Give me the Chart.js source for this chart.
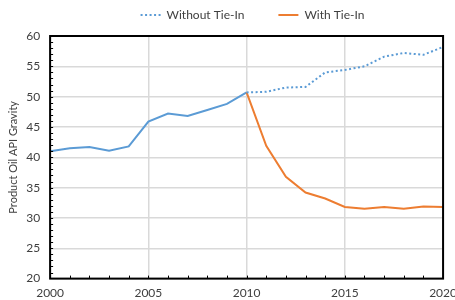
<!DOCTYPE html>
<html>
<head>
<meta charset="utf-8">
<script src="https://cdn.jsdelivr.net/npm/chart.js@4/dist/chart.umd.min.js"></script>
<style>
  html, body { margin: 0; padding: 0; background: #fff; overflow: hidden; }
  #wrap { width: 464px; height: 307px; }
</style>
</head>
<body>
<div id="wrap"><canvas id="apiChart"></canvas></div>
<script>
// historical production, then the two forecast cases from 2010
let histYears = [2000, 2001, 2002, 2003, 2004, 2005, 2006, 2007, 2008, 2009, 2010];
let histApi = [41.0, 41.5, 41.7, 41.1, 41.8, 45.9, 47.2, 46.8, 47.8, 48.8, 50.7];

let forecastYears = [2010, 2011, 2012, 2013, 2014, 2015, 2016, 2017, 2018, 2019, 2020];
let withoutTieIn = [50.7, 50.8, 51.5, 51.6, 54.0, 54.4, 55.0, 56.6, 57.2, 56.9, 58.2];
let withTieIn = [50.7, 41.9, 36.8, 34.2, 33.2, 31.8, 31.5, 31.8, 31.5, 31.9, 31.8];

let yTicks = [20, 25, 30, 35, 40, 45, 50, 55, 60];
let xTickLabels = [2000, 2005, 2010, 2015, 2020];

function toPoints(xs, ys) {
    return xs.map((x, i) => ({ x: x, y: ys[i] }));
}

const textColor = "#404040";
const fontFamily = "Lato, 'Liberation Sans', sans-serif";

// box round the plot plus small inside ticks like the excel original
const frameAndTicks = {
    id: "frameAndTicks",
    afterLayout(chart) {
        // wide item gap also pads the legend vertically, pull it back up
        // and push it a bit right of centre like the original
        chart.legend.top -= 27;
        chart.legend.left += 34;
    },
    afterDraw(chart) {
        let ctx = chart.ctx;
        let area = chart.chartArea;
        let xs = chart.scales.x;
        let ys = chart.scales.y;
        ctx.save();
        ctx.strokeStyle = "#000";
        ctx.lineWidth = 1;
        ctx.beginPath();
        for (let yr = 2001; yr < 2020; yr++) {
            let px = Math.round(xs.getPixelForValue(yr)) + 0.5;
            ctx.moveTo(px, area.bottom);
            ctx.lineTo(px, area.bottom - 3);
        }
        for (let v = 21; v < 60; v++) {
            let py = Math.round(ys.getPixelForValue(v)) + 0.5;
            ctx.moveTo(area.left, py);
            ctx.lineTo(area.left + 3, py);
        }
        ctx.stroke();
        ctx.lineWidth = 2;
        ctx.strokeRect(area.left, area.top, area.right - area.left, area.bottom - area.top);
        ctx.restore();
    }
};

let ctx = document.getElementById("apiChart").getContext("2d");
new Chart(ctx, {
    type: "line",
    data: {
        datasets: [
            {
                label: "Without Tie-In",
                data: toPoints(forecastYears, withoutTieIn),
                borderColor: "#5b9bd5",
                backgroundColor: "#5b9bd5",
                borderWidth: 2,
                borderDash: [2, 2.5],
                pointRadius: 0,
                tension: 0
            },
            {
                label: "With Tie-In",
                data: toPoints(forecastYears, withTieIn),
                borderColor: "#ed7d31",
                backgroundColor: "#ed7d31",
                borderWidth: 2,
                pointRadius: 0,
                tension: 0
            },
            {
                label: "History",
                data: toPoints(histYears, histApi),
                borderColor: "#5b9bd5",
                backgroundColor: "#5b9bd5",
                borderWidth: 2,
                pointRadius: 0,
                tension: 0
            }
        ]
    },
    plugins: [frameAndTicks],
    options: {
        responsive: true,
        maintainAspectRatio: false,
        animation: false,
        layout: { padding: { top: 2, left: 7, right: 0, bottom: 0 } },
        plugins: {
            tooltip: { enabled: false },
            legend: {
                position: "top",
                maxHeight: 34,
                labels: {
                    filter: item => item.text !== "History",
                    generateLabels: chart => {
                        let items = Chart.defaults.plugins.legend.labels.generateLabels(chart);
                        items.forEach(item => {
                            let ds = chart.data.datasets[item.datasetIndex];
                            item.lineDash = ds.borderDash || [];
                            item.lineWidth = 2;
                        });
                        return items;
                    },
                    usePointStyle: true,
                    pointStyle: "line",
                    pointStyleWidth: 20,
                    color: textColor,
                    font: { family: fontFamily, size: 12 },
                    padding: 34,
                    boxWidth: 20
                }
            }
        },
        scales: {
            x: {
                type: "linear",
                min: 2000,
                max: 2020,
                afterBuildTicks: axis => {
                    axis.ticks = xTickLabels.map(v => ({ value: v }));
                },
                ticks: {
                    color: textColor,
                    font: { family: fontFamily, size: 12 },
                    maxRotation: 0,
                    padding: 7,
                    callback: v => String(v)
                },
                grid: {
                    color: "#d9d9d9",
                    lineWidth: 1.5,
                    drawTicks: false
                },
                border: { display: false }
            },
            y: {
                min: 20,
                max: 60,
                afterBuildTicks: axis => {
                    axis.ticks = yTicks.map(v => ({ value: v }));
                },
                ticks: {
                    color: textColor,
                    font: { family: fontFamily, size: 12 },
                    padding: 10
                },
                grid: {
                    color: "#d9d9d9",
                    lineWidth: 1.5,
                    drawTicks: false
                },
                border: { display: false },
                title: {
                    display: true,
                    text: "Product Oil API Gravity",
                    color: textColor,
                    font: { family: fontFamily, size: 11 },
                    padding: { top: 0, bottom: -4 }
                }
            }
        }
    }
});
</script>
</body>
</html>
